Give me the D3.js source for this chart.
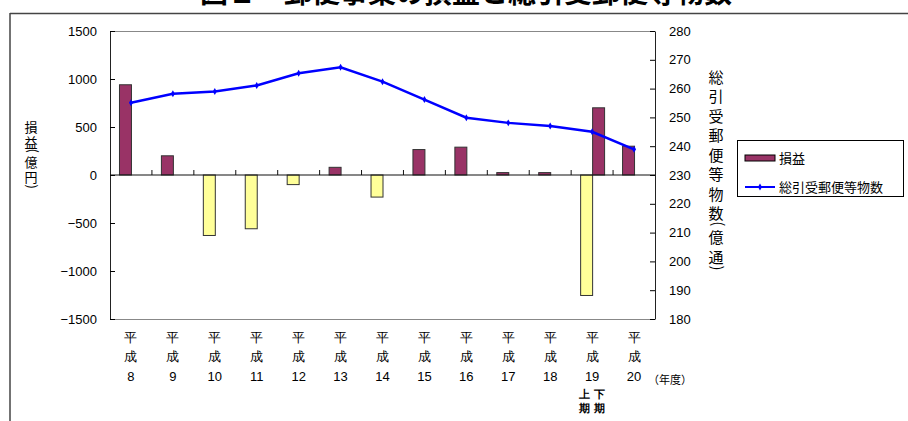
<!DOCTYPE html>
<html><head><meta charset="utf-8">
<script src="https://cdn.jsdelivr.net/npm/d3@7"></script>
<style>
html,body{margin:0;padding:0;background:#fff;}
svg{display:block;}
text{font-family:"Liberation Sans",Arial,sans-serif;}
.jp{font-family:"Noto Sans CJK JP",sans-serif;}
</style></head>
<body>
<svg id="c" width="908" height="421"></svg>
<script>
// ---- data ----
const categories = ["8","9","10","11","12","13","14","15","16","17","18","19","20"];
const profitFirst = [940, 200, -630, -560, -100, 80, -230, 265, 290, 25, 25, -1255, 300];
const profitSecond = [null, null, null, null, null, null, null, null, null, null, null, 700, null];
const volume = [255.1, 258.2, 259.0, 261.1, 265.3, 267.4, 262.4, 256.2, 249.9, 248.1, 247.0, 245.0, 238.9];
const leftTicks = [-1500, -1000, -500, 0, 500, 1000, 1500];
const rightTicks = [180, 190, 200, 210, 220, 230, 240, 250, 260, 270, 280];
const titleText = "図１　郵便事業の損益と総引受郵便等物数";
const leftTitle = "損益(億円)";
const rightTitle = "総引受郵便等物数(億通)";
const seriesNames = ["損益","総引受郵便等物数"];
const unitText = "（年度）";

const svg = d3.select("#c");
const L = 110, R = 655, T = 31, B = 319;
const x = d3.scaleBand().domain(categories).range([L, R]).padding(0);
const yL = d3.scaleLinear().domain([-1500, 1500]).range([B, T]);
const yR = d3.scaleLinear().domain([180, 280]).range([B, T]);
const bw = x.bandwidth();
const w = bw / 3.5;
const cx = c => x(c) + bw / 2;
const maroon = "#993366", yellow = "#FFFF99", blue = "#0000FF";

// frame
svg.append("line").attr("x1", 10).attr("x2", 908).attr("y1", 13.5).attr("y2", 13.5).attr("stroke", "#444").attr("stroke-width", 1.5);
svg.append("line").attr("x1", 10).attr("x2", 10).attr("y1", 13).attr("y2", 421).attr("stroke", "#444").attr("stroke-width", 1.5);

// title (clipped at top)
svg.append("text").attr("class", "jp").attr("x", 466).attr("y", 3).attr("text-anchor", "middle")
  .attr("font-size", 28).attr("font-weight", "bold").attr("fill", "#000").text(titleText);

// plot border
svg.append("line").attr("x1", L).attr("x2", R).attr("y1", T + 0.5).attr("y2", T + 0.5).attr("stroke", "#888");
svg.append("line").attr("x1", L).attr("x2", R).attr("y1", B + 0.5).attr("y2", B + 0.5).attr("stroke", "#888");

// bars
const barData = [];
categories.forEach((c, i) => {
  if (profitFirst[i] != null) barData.push({c, v: profitFirst[i], slot: 0});
  if (profitSecond[i] != null) barData.push({c, v: profitSecond[i], slot: 1});
});
svg.append("g").selectAll("rect").data(barData).join("rect")
  .attr("x", d => d.slot === 0 ? cx(d.c) - w + 0.5 : cx(d.c) + 0.5)
  .attr("width", w)
  .attr("y", d => Math.min(yL(d.v), yL(0)))
  .attr("height", d => Math.abs(yL(d.v) - yL(0)))
  .attr("fill", d => d.v >= 0 ? maroon : yellow)
  .attr("stroke", "#333").attr("stroke-width", 1);

// left axis
const axL = svg.append("g").attr("transform", `translate(${L},0)`)
  .call(d3.axisLeft(yL).tickValues(leftTicks).tickSizeInner(-5).tickSizeOuter(0).tickPadding(13)
    .tickFormat(d => d < 0 ? "−" + Math.abs(d) : String(d)));
axL.select(".domain").attr("stroke", "#222");
axL.selectAll("text").attr("font-size", 13).attr("fill", "#000").attr("font-family", "Liberation Sans, Arial, sans-serif");

// right axis
const axR = svg.append("g").attr("transform", `translate(${R},0)`)
  .call(d3.axisRight(yR).tickValues(rightTicks).tickSizeInner(-5).tickSizeOuter(0).tickPadding(14));
axR.select(".domain").attr("stroke", "#222");
axR.selectAll("text").attr("font-size", 13).attr("fill", "#000").attr("font-family", "Liberation Sans, Arial, sans-serif");

// zero category axis
const y0 = yL(0);
svg.append("line").attr("x1", L).attr("x2", R).attr("y1", y0).attr("y2", y0).attr("stroke", "#111").attr("stroke-width", 1.2);
svg.append("g").selectAll("line").data(categories.slice(1)).join("line")
  .attr("x1", d => x(d)).attr("x2", d => x(d)).attr("y1", y0).attr("y2", y0 - 5).attr("stroke", "#111");

// line series
const line = d3.line().x((d, i) => cx(categories[i])).y(d => yR(d));
svg.append("path").datum(volume).attr("d", line).attr("fill", "none").attr("stroke", blue).attr("stroke-width", 2.5);
svg.append("g").selectAll("path").data(volume).join("path")
  .attr("transform", (d, i) => `translate(${cx(categories[i])},${yR(d)})`)
  .attr("d", d3.symbol(d3.symbolDiamond, 14)).attr("fill", blue);

// x labels
const xl = svg.append("g").attr("class", "jp").attr("font-size", 13).attr("text-anchor", "middle").attr("fill", "#000");
categories.forEach(c => {
  const g = xl.append("g").attr("transform", `translate(${cx(c)},0)`);
  g.append("text").attr("y", 342).text("平");
  g.append("text").attr("y", 361).text("成");
  g.append("text").attr("y", 381).attr("font-family", "Liberation Sans, Arial, sans-serif").text(c);
});
const c19 = cx("19");
[["上", -7.5], ["下", 7.5]].forEach(([t, dx]) => {
  xl.append("text").attr("x", c19 + dx).attr("y", 398).attr("font-size", 11).attr("font-weight", "bold").text(t);
  xl.append("text").attr("x", c19 + dx).attr("y", 412).attr("font-size", 11).attr("font-weight", "bold").text("期");
});
svg.append("text").attr("class", "jp").attr("x", 648).attr("y", 384).attr("font-size", 11).attr("fill", "#000").text(unitText);

// axis titles: stacked glyphs in one text element; parentheses turned sideways
function stacked(str, xc, ys, size) {
  const chars = Array.from(str);
  const shift = ch => ch === "(" ? [-0.03, -0.61] : ch === ")" ? [-0.13, -0.53] : [0, 0];
  svg.append("text").attr("class", "jp").attr("font-size", size).attr("fill", "#000")
    .attr("text-anchor", "middle").attr("dominant-baseline", "central")
    .attr("x", chars.map(ch => xc + shift(ch)[0] * size).join(" "))
    .attr("y", chars.map((ch, i) => ys[i] + shift(ch)[1] * size).join(" "))
    .attr("rotate", chars.map(ch => (ch === "(" || ch === ")") ? 90 : 0).join(" "))
    .text(str);
}
stacked(leftTitle, 31, [126, 141, 151, 161, 176, 186], 13);
stacked(rightTitle, 716, [76, 95.5, 115, 134.5, 154, 173.5, 193, 212.5, 224, 236, 256, 267], 15);

// legend
const lg = svg.append("g");
lg.append("rect").attr("x", 737.5).attr("y", 140.5).attr("width", 166).attr("height", 56).attr("fill", "#fff").attr("stroke", "#000");
lg.append("rect").attr("x", 745).attr("y", 155).attr("width", 30).attr("height", 6).attr("fill", maroon).attr("stroke", "#000");
lg.append("text").attr("class", "jp").attr("x", 779).attr("y", 163).attr("font-size", 13).text(seriesNames[0]);
lg.append("line").attr("x1", 745).attr("x2", 775).attr("y1", 187).attr("y2", 187).attr("stroke", blue).attr("stroke-width", 2);
lg.append("path").attr("transform", "translate(760,187)").attr("d", d3.symbol(d3.symbolDiamond, 14)).attr("fill", blue);
lg.append("text").attr("class", "jp").attr("x", 779).attr("y", 192).attr("font-size", 13).text(seriesNames[1]);
</script>
</body></html>
